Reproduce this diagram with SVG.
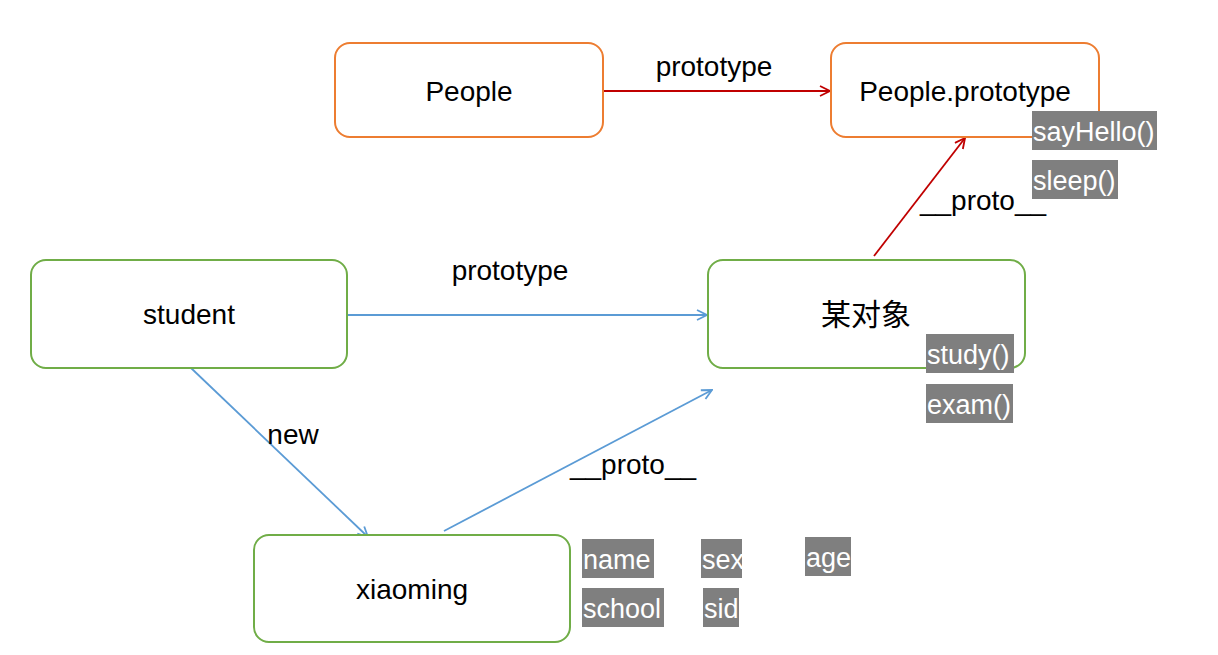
<svg xmlns="http://www.w3.org/2000/svg" width="1218" height="655" viewBox="0 0 1218 655">
<style>
.t{font-family:"Liberation Sans",Arial,sans-serif;font-size:28px;fill:#000}
.c{font-family:"Noto Sans CJK SC","Liberation Sans",sans-serif;font-size:30px;fill:#000}
.o{fill:#fff;stroke:#ED7D31;stroke-width:2}
.g{fill:#fff;stroke:#70AD47;stroke-width:2}
.tag{fill:#7F7F7F}
.tt{font-family:"Liberation Sans",Arial,sans-serif;font-size:27px;fill:#fff}
.red{stroke:#C00000;stroke-width:1.8;fill:none}
.blue{stroke:#5B9BD5;stroke-width:1.8;fill:none}
</style>
<defs>
<marker id="ar" viewBox="0 0 12 12" refX="11" refY="6" markerWidth="12" markerHeight="12" markerUnits="userSpaceOnUse" orient="auto">
<path d="M1,1 L11,6 L1,11" fill="none" stroke="#C00000" stroke-width="1.8"/>
</marker>
<marker id="ab" viewBox="0 0 12 12" refX="11" refY="6" markerWidth="12" markerHeight="12" markerUnits="userSpaceOnUse" orient="auto">
<path d="M1,1 L11,6 L1,11" fill="none" stroke="#5B9BD5" stroke-width="1.8"/>
</marker>
</defs>
<rect width="1218" height="655" fill="#fff"/>
<g id="connectors">
<line class="red" x1="603" y1="91" x2="830" y2="91" marker-end="url(#ar)"/>
<line class="red" x1="874" y1="256" x2="965" y2="138" marker-end="url(#ar)"/>
<line class="blue" x1="348" y1="315" x2="707" y2="315" marker-end="url(#ab)"/>
<line class="blue" x1="191" y1="368" x2="368" y2="537" marker-end="url(#ab)"/>
<line class="blue" x1="444" y1="531" x2="712" y2="390" marker-end="url(#ab)"/>
<text class="t" x="714" y="76" text-anchor="middle">prototype</text>
<text class="t" x="983" y="210" text-anchor="middle">__proto__</text>
<text class="t" x="510" y="280" text-anchor="middle">prototype</text>
<text class="t" x="293" y="444" text-anchor="middle">new</text>
<text class="t" x="633" y="474" text-anchor="middle">__proto__</text>
</g>
<g id="People">
<rect class="o" x="335" y="43" width="268" height="94" rx="15"/>
<text class="t" x="469" y="101" text-anchor="middle">People</text>
</g>
<g id="PeoplePrototype">
<rect class="o" x="831" y="43" width="268" height="94" rx="15"/>
<text class="t" x="965" y="101" text-anchor="middle">People.prototype</text>
</g>
<g id="student">
<rect class="g" x="31" y="260" width="316" height="108" rx="15"/>
<text class="t" x="189" y="324" text-anchor="middle">student</text>
</g>
<g id="obj">
<rect class="g" x="708" y="260" width="317" height="108" rx="15"/>
<text class="c" x="866" y="325" text-anchor="middle">某对象</text>
</g>
<g id="xiaoming">
<rect class="g" x="254" y="535" width="316" height="107" rx="15"/>
<text class="t" x="412" y="599" text-anchor="middle">xiaoming</text>
</g>
<g id="tags">
<rect class="tag" x="1032" y="111" width="125" height="39"/>
<text class="tt" x="1033" y="141">sayHello()</text>
<rect class="tag" x="1032" y="160" width="86" height="39"/>
<text class="tt" x="1033" y="190">sleep()</text>
<rect class="tag" x="926" y="334" width="88" height="39"/>
<text class="tt" x="927" y="364">study()</text>
<rect class="tag" x="926" y="384" width="87" height="39"/>
<text class="tt" x="927" y="414">exam()</text>
<rect class="tag" x="582" y="539" width="72" height="39"/>
<text class="tt" x="583" y="569">name</text>
<rect class="tag" x="701" y="539" width="41" height="39"/>
<text class="tt" x="702" y="569">sex</text>
<rect class="tag" x="805" y="537" width="46" height="39"/>
<text class="tt" x="806" y="567">age</text>
<rect class="tag" x="582" y="588" width="82" height="39"/>
<text class="tt" x="583" y="618">school</text>
<rect class="tag" x="703" y="588" width="36" height="39"/>
<text class="tt" x="704" y="618">sid</text>
</g>
</svg>
